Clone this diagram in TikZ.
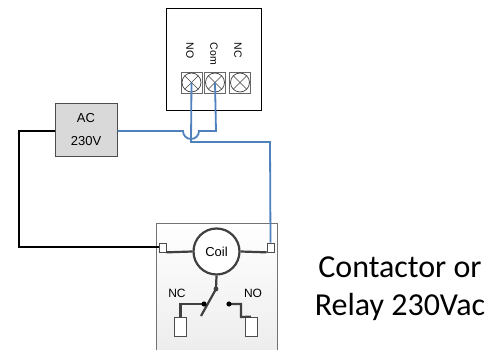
\documentclass[tikz,border=0pt]{standalone}
\usepackage{fontspec}
\setmainfont{Liberation Sans}
\newfontfamily\captionfont{Carlito}
\usetikzlibrary{calc}
\definecolor{wireblue}{RGB}{79,129,189}
\definecolor{darkwire}{RGB}{64,64,64}
\definecolor{boxgrey}{RGB}{217,217,217}
\tikzset{
	wire/.style={line width=1.8pt, color=wireblue},
	mains/.style={line width=1.7pt, color=black},
	coilwire/.style={line width=2.2pt, color=darkwire},
	lug/.style={draw=black!70, fill=white, line width=0.7pt, inner sep=0pt},
	lbl/.style={font=\fontsize{10.5}{10.5}\selectfont, inner sep=0pt},
	biglbl/.style={font=\fontsize{13}{13}\selectfont, inner sep=0pt},
	screw/.style={draw=black!60, line width=0.7pt, fill=white, minimum size=21pt, inner sep=0pt}
}
\begin{document}
\begin{tikzpicture}[x=1pt, y=-1pt]
	\useasboundingbox (0, 0) rectangle (490, 350);
	%%%%% START %%%%%

	% terminal block
	\draw[line width=0.9pt, fill=white] (166, 8) rectangle (261, 110);
	\foreach \name/\xc/\lx/\txt in {tno/191.5/190/NO, tcom/215/214/Com, tnc/240/238/NC} {
		\node[screw] (\name) at (\xc, 82.5) {};
		\draw[black!75, line width=0.7pt] (\name.center) circle (9.5);
		\draw[black!75, line width=0.7pt] ($(\name.center)+(-6.7, -6.7)$) -- ($(\name.center)+(6.7, 6.7)$);
		\draw[black!75, line width=0.7pt] ($(\name.center)+(-6.7, 6.7)$) -- ($(\name.center)+(6.7, -6.7)$);
		\node[lbl, rotate=-90, anchor=west] (l\name) at (\lx, 42.5) {\txt};
	}

	% supply
	\node[draw=black!70, fill=boxgrey, line width=1pt, minimum width=62pt, minimum height=53pt, inner sep=0pt] (ac) at (86, 130.5) {};
	\node[biglbl] (acone) at (86, 118) {AC};
	\node[biglbl] (actwo) at (86, 141) {230V};

	% contactor
	\shade[top color=white, bottom color=black!7] (156, 223) rectangle (277, 350);
	\draw[black!55, line width=1pt] (156, 350) -- (156, 223) -- (277, 223) -- (277, 350);
	\node[lug, minimum width=7pt, minimum height=9pt] (lugl) at (162.5, 247.5) {};
	\node[lug, minimum width=7pt, minimum height=9pt] (lugr) at (270.5, 247.5) {};
	\node[draw=darkwire, line width=2.2pt, circle, fill=white, minimum size=46pt, inner sep=0pt, font=\fontsize{13}{13}\selectfont] (coil) at (216.5, 251.5) {Coil};
	\coordinate (pivot) at (216, 289);
	\coordinate (bladeend) at (201, 316);
	\coordinate (ncdot) at (204, 304);
	\coordinate (nodot) at (229, 304);
	\node[lug, minimum width=12pt, minimum height=19pt] (ncpin) at (180.5, 326.5) {};
	\node[lug, minimum width=12pt, minimum height=19pt] (nopin) at (251, 326.5) {};
	\draw[coilwire] (lugl.south east) -- (coil.west);
	\draw[coilwire] (coil.east) -- (lugr.south west);
	\draw[coilwire] (coil.south) -- (pivot) -- (bladeend);
	\draw[coilwire] (ncdot) -| (ncpin.north);
	\draw[coilwire] (nodot) -- (241, 304) -- (241, 317) -- (nopin.north);
	\fill[darkwire] (pivot) circle (2.4);
	\fill[black] (ncdot) circle (2.6);
	\fill[black] (nodot) circle (2.6);
	\node[biglbl, font=\fontsize{12}{12}\selectfont] (nclbl) at (177, 293) {NC};
	\node[biglbl, font=\fontsize{12}{12}\selectfont] (nolbl) at (253, 293) {NO};

	% wiring
	\draw[mains] (ac.west |- 0, 131) -- (19, 131) -- (19, 247) -- (lugl.west |- 0, 247);
	\draw[wire] (ac.east |- 0, 131) -- (183, 131) arc (180:0:8) -- (216, 131) -- (tcom.center);
	\draw[wire] (tno.center) -- (191, 142) -- (270, 142) -- (lugr.north);

	% caption
	\node[font=\captionfont\fontsize{32}{38}\selectfont, align=center, inner sep=0pt] (caption) at (400, 289) {Contactor or\\Relay 230Vac};

	%%%%% END %%%%%
\end{tikzpicture}
\end{document}
